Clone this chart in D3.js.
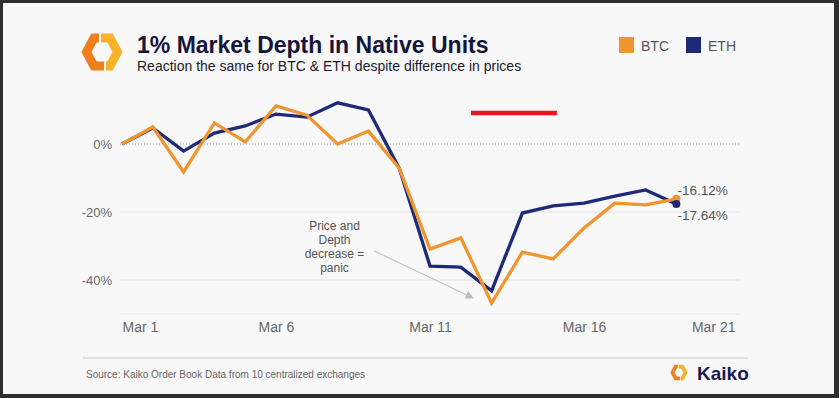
<!DOCTYPE html>
<html>
<head>
<meta charset="utf-8">
<script src="https://cdn.jsdelivr.net/npm/d3@7"></script>
<style>
body { margin: 0; background: #2e2e2e; }
svg { display: block; font-family: "Liberation Sans", Arial, sans-serif; }
</style>
</head>
<body>
<svg id="chart" width="839" height="398"></svg>
<script>
// day of March 2020
var days = [1, 2, 3, 4, 5, 6, 7, 8, 9, 10, 11, 12, 13, 14, 15, 16, 17, 18, 19];
var btc = [0, 5.0, -8.2, 6.2, 0.6, 11.2, 8.5, 0, 3.8, -7.1, -30.9, -27.6, -46.8, -31.8, -33.8, -24.7, -17.4, -17.9, -16.12];
var eth = [0, 4.7, -2.1, 3.2, 5.3, 8.8, 7.9, 12.1, 10.0, -7.1, -35.9, -36.2, -43.2, -20.3, -18.2, -17.4, -15.3, -13.5, -17.64];
var tickDays = [1, 6, 11, 16, 21];
var yTicks = [0, -20, -40];
var seriesNames = ["BTC", "ETH"];
var seriesColors = ["#ef9630", "#1e2a78"];
var endLabels = ["-16.12%", "-17.64%"];
var noteLines = ["Price and", "Depth", "decrease =", "panic"];

var svg = d3.select('#chart');

// frame + page background
svg.append('rect').attr('width', 839).attr('height', 398).attr('fill', '#2e2e2e');
svg.append('rect').attr('x', 3).attr('y', 3).attr('width', 831).attr('height', 391).attr('fill', '#f8f8f8');

// fractional days allowed (for annotation positions)
var date = function(d) { return new Date(Date.UTC(2020, 2, 1) + (d - 1) * 864e5); };

var x = d3.scaleUtc().domain([date(1), date(21)]).range([122, 738]);
var y = d3.scaleLinear().domain([-50, 10]).range([314, 110]);

// grid
svg.append('g').selectAll('line')
	.data([-20, -40, -50])
	.enter().append('line')
	.attr('x1', 120).attr('x2', 740)
	.attr('y1', function(d) { return y(d); })
	.attr('y2', function(d) { return y(d); })
	.attr('stroke', '#e4e4e4').attr('stroke-width', 1);
svg.append('line')
	.attr('x1', 120).attr('x2', 740)
	.attr('y1', y(0)).attr('y2', y(0))
	.attr('stroke', '#9a9a9a').attr('stroke-width', 1)
	.attr('stroke-dasharray', '1,2');

// y axis labels
var yAxis = svg.append('g')
	.attr('transform', 'translate(112,0)')
	.call(d3.axisLeft(y).tickValues(yTicks).tickSize(0).tickPadding(0)
		.tickFormat(function(d) { return d + '%'; }));
yAxis.select('.domain').remove();
yAxis.selectAll('text')
	.attr('font-size', 13).attr('fill', '#666').attr('font-family', '"Liberation Sans", Arial, sans-serif');

// x axis labels
var xAxis = svg.append('g')
	.attr('transform', 'translate(0,322)')
	.call(d3.axisBottom(x).tickValues(tickDays.map(date)).tickSize(0).tickPadding(0)
		.tickFormat(d3.utcFormat('Mar %-d')));
xAxis.select('.domain').remove();
xAxis.selectAll('text')
	.attr('font-size', 14).attr('fill', '#666').attr('font-family', '"Liberation Sans", Arial, sans-serif')
	.attr('text-anchor', function(d, i) { return i == 0 ? 'start' : (i == tickDays.length - 1 ? 'end' : 'middle'); })
	.attr('dx', function(d, i) { return i == tickDays.length - 1 ? -3 : 0; });

// lines
var line = d3.line()
	.x(function(d) { return x(date(d[0])); })
	.y(function(d) { return y(d[1]); });

var series = [btc, eth];
[1, 0].forEach(function(s) {
	svg.append('path')
		.datum(d3.zip(days, series[s]))
		.attr('d', line)
		.attr('fill', 'none')
		.attr('stroke', seriesColors[s])
		.attr('stroke-width', 3.3)
		.attr('stroke-linejoin', 'miter');
});

// end dots + labels
[0, 1].forEach(function(s) {
	var last = days.length - 1;
	svg.append('circle')
		.attr('cx', x(date(days[last])))
		.attr('cy', y(series[s][last]))
		.attr('r', 4)
		.attr('fill', seriesColors[s]);
	svg.append('text')
		.attr('x', x(date(days[last])) + 1)
		.attr('y', y(series[s][last]) + (s == 0 ? -4 : 16))
		.attr('font-size', 13.5).attr('fill', '#555')
		.text(endLabels[s]);
});

// annotation
var note = svg.append('text')
	.attr('text-anchor', 'middle')
	.attr('font-size', 12).attr('fill', '#555');
note.selectAll('tspan')
	.data(noteLines)
	.enter().append('tspan')
	.attr('x', x(date(7.9)))
	.attr('y', function(d, i) { return 230 + i * 14; })
	.text(function(d) { return d; });

svg.append('defs').append('marker')
	.attr('id', 'arrow').attr('viewBox', '0 0 10 10')
	.attr('refX', 9).attr('refY', 5)
	.attr('markerWidth', 7).attr('markerHeight', 7)
	.attr('orient', 'auto')
	.append('path').attr('d', 'M0,0L10,5L0,10z').attr('fill', '#bdbdbd');
svg.append('line')
	.attr('x1', x(date(9.2))).attr('y1', y(-31.5))
	.attr('x2', x(date(12.4))).attr('y2', y(-45.3))
	.attr('stroke', '#c4c4c4').attr('stroke-width', 1.2)
	.attr('marker-end', 'url(#arrow)');

// red bar
svg.append('line')
	.attr('x1', x(date(12.33))).attr('x2', x(date(15.12)))
	.attr('y1', y(9.1)).attr('y2', y(9.1))
	.attr('stroke', '#e8161e').attr('stroke-width', 4.5);

// logo
function logo(g, s) {
	g.append('path')
		.attr('d', 'M-3,-14L-8,-14L-15.5,0L-8,14L2,14')
		.attr('fill', 'none').attr('stroke', '#f07f1e').attr('stroke-width', 9)
		.attr('stroke-linejoin', 'miter').attr('transform', 'scale(' + s + ')');
	g.append('path')
		.attr('d', 'M-1,-14L8,-14L15.5,0L8,14L4,14')
		.attr('fill', 'none').attr('stroke', '#f6b22a').attr('stroke-width', 9)
		.attr('stroke-linejoin', 'miter').attr('transform', 'scale(' + s + ')');
}
logo(svg.append('g').attr('transform', 'translate(102,52)'), 1);
logo(svg.append('g').attr('transform', 'translate(679,372.5)'), 0.42);

// titles
svg.append('text')
	.attr('x', 137).attr('y', 53)
	.attr('font-size', 23).attr('font-weight', 'bold').attr('fill', '#14143c')
	.text('1% Market Depth in Native Units');
svg.append('text')
	.attr('x', 137).attr('y', 71)
	.attr('font-size', 14).attr('fill', '#1a1a2e')
	.text('Reaction the same for BTC & ETH despite difference in prices');

// legend
var legend = svg.append('g').selectAll('g')
	.data(seriesNames)
	.enter().append('g')
	.attr('transform', function(d, i) { return 'translate(' + (619 + i * 67) + ',37)'; });
legend.append('rect')
	.attr('width', 15).attr('height', 16)
	.attr('fill', function(d, i) { return seriesColors[i]; });
legend.append('text')
	.attr('x', 22).attr('y', 13.5)
	.attr('font-size', 14).attr('fill', '#555')
	.text(function(d) { return d; });

// footer
svg.append('line')
	.attr('x1', 83).attr('x2', 748).attr('y1', 358).attr('y2', 358)
	.attr('stroke', '#c8c8c8').attr('stroke-width', 1);
svg.append('text')
	.attr('x', 86).attr('y', 378)
	.attr('font-size', 10).attr('fill', '#666')
	.text('Source: Kaiko Order Book Data from 10 centralized exchanges');
svg.append('text')
	.attr('x', 697).attr('y', 380)
	.attr('font-size', 19).attr('font-weight', 'bold').attr('fill', '#1a1a4e')
	.text('Kaiko');
</script>
</body>
</html>
